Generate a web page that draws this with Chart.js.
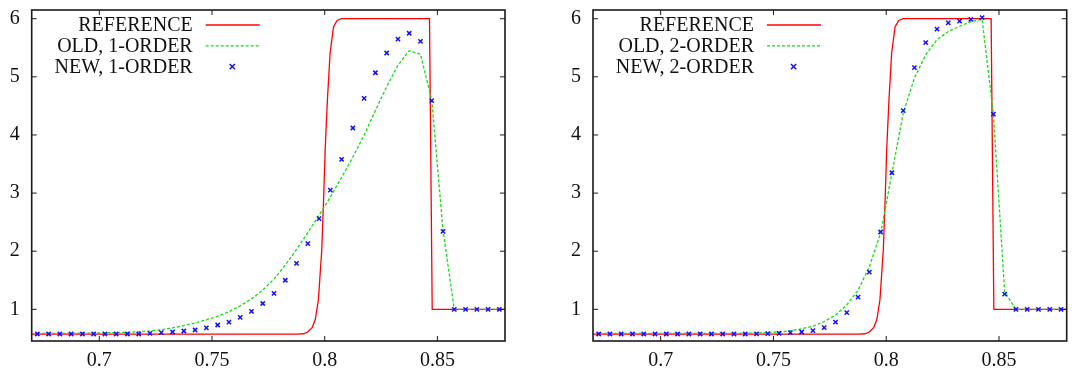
<!DOCTYPE html>
<html>
<head>
<meta charset="utf-8">
<script src="https://cdn.jsdelivr.net/npm/chart.js@4"></script>
<style>
    html, body { margin: 0; padding: 0; background: #fff; }
    #wrap { position: relative; width: 1073px; height: 372px; }
    .box { position: absolute; top: 0; height: 372px; }
    #box1 { left: 0; width: 536px; }
    #box2 { left: 536px; width: 537px; }
</style>
</head>
<body>
<div id="wrap">
    <div class="box" id="box1"><canvas id="graph1"></canvas></div>
    <div class="box" id="box2"><canvas id="graph2"></canvas></div>
</div>
<script>
// Cell centres shared by the two numerical solutions
var cellX = [0.6725, 0.6775, 0.6825, 0.6875, 0.6925, 0.6975, 0.7025, 0.7075, 0.7125, 0.7175,
             0.7225, 0.7275, 0.7325, 0.7375, 0.7425, 0.7475, 0.7525, 0.7575, 0.7625, 0.7675,
             0.7725, 0.7775, 0.7825, 0.7875, 0.7925, 0.7975, 0.8025, 0.8075, 0.8125, 0.8175,
             0.8225, 0.8275, 0.8325, 0.8375, 0.8425, 0.8475, 0.8525, 0.8575, 0.8625, 0.8675,
             0.8725, 0.8775];

// Reference solution (red line)
var refX = [0.67, 0.788, 0.7905, 0.7925, 0.7945, 0.7958, 0.7972, 0.7987, 0.7995, 0.8002,
            0.8012, 0.8024, 0.8039, 0.8055, 0.8075, 0.8465, 0.8477, 0.88];
var refY = [0.575, 0.575, 0.58, 0.61, 0.69, 0.82, 1.16, 2.02, 2.88, 3.74,
            4.60, 5.41, 5.86, 5.97, 6.0, 6.0, 1.0, 1.0];

// Left panel: first order
var old1 = [0.585, 0.585, 0.585, 0.587, 0.59, 0.592, 0.595, 0.60, 0.605, 0.615,
            0.63, 0.65, 0.68, 0.72, 0.765, 0.82, 0.88, 0.96, 1.06, 1.18,
            1.33, 1.52, 1.76, 2.03, 2.32, 2.62, 2.93, 3.27, 3.62, 4.00,
            4.42, 4.83, 5.20, 5.45, 5.39, 4.60, 2.36, 1.0, 1.0, 1.0,
            1.0, 1.0];
var new1 = [0.575, 0.575, 0.575, 0.575, 0.575, 0.575, 0.575, 0.575, 0.575, 0.575,
            0.587, 0.60, 0.61, 0.627, 0.644, 0.68, 0.73, 0.78, 0.862, 0.966,
            1.10, 1.275, 1.50, 1.79, 2.13, 2.56, 3.05, 3.58, 4.12, 4.63,
            5.07, 5.41, 5.65, 5.75, 5.61, 4.59, 2.34, 1.0, 1.0, 1.0,
            1.0, 1.0];

// Right panel: second order
var old2 = [0.585, 0.585, 0.585, 0.585, 0.585, 0.585, 0.585, 0.585, 0.585, 0.585,
            0.585, 0.585, 0.585, 0.59, 0.595, 0.60, 0.61, 0.63, 0.665, 0.71,
            0.79, 0.90, 1.075, 1.33, 1.73, 2.31, 3.34, 4.37, 4.98, 5.38,
            5.64, 5.78, 5.87, 5.95, 5.99, 4.36, 1.30, 1.0, 1.0, 1.0,
            1.0, 1.0];
var new2 = [0.575, 0.575, 0.575, 0.575, 0.575, 0.575, 0.575, 0.575, 0.575, 0.575,
            0.575, 0.575, 0.575, 0.575, 0.578, 0.582, 0.587, 0.598, 0.61, 0.633,
            0.685, 0.78, 0.943, 1.21, 1.64, 2.33, 3.35, 4.42, 5.16, 5.59,
            5.82, 5.93, 5.96, 5.99, 6.02, 4.36, 1.26, 1.0, 1.0, 1.0,
            1.0, 1.0];

var labels1 = ['REFERENCE', 'OLD, 1-ORDER', 'NEW, 1-ORDER'];
var labels2 = ['REFERENCE', 'OLD, 2-ORDER', 'NEW, 2-ORDER'];

var xTicks = [0.7, 0.75, 0.8, 0.85];
var xTickLabels = ['0.7', '0.75', '0.8', '0.85'];
var yTicks = [1, 2, 3, 4, 5, 6];

var serif = '"Liberation Serif", "Times New Roman", serif';

function pairs(xs, ys) {
    return xs.map(function(x, i) { return { x: x, y: ys[i] }; });
}

// gnuplot-like frame, inward ticks on all sides and legend inside the plot
var gnuplotFrame = {
    id: 'gnuplotFrame',
    afterDraw: function(chart) {
        var ctx = chart.ctx, a = chart.chartArea;
        var xs = chart.scales.x, ys = chart.scales.y;
        ctx.save();
        ctx.strokeStyle = '#1a1a1a';
        ctx.lineWidth = 1;
        ctx.beginPath();
        xTicks.forEach(function(v) {
            var px = xs.getPixelForValue(v);
            ctx.moveTo(px, a.bottom); ctx.lineTo(px, a.bottom - 5);
            ctx.moveTo(px, a.top); ctx.lineTo(px, a.top + 5);
        });
        yTicks.forEach(function(v) {
            var py = ys.getPixelForValue(v);
            ctx.moveTo(a.left, py); ctx.lineTo(a.left + 5, py);
            ctx.moveTo(a.right, py); ctx.lineTo(a.right - 5, py);
        });
        ctx.stroke();
        ctx.lineWidth = 1.6;
        ctx.strokeRect(a.left, a.top, a.right - a.left, a.bottom - a.top);

        ctx.font = '20px ' + serif;
        ctx.fillStyle = '#111';
        ctx.textAlign = 'right';
        ctx.textBaseline = 'middle';
        chart.data.datasets.forEach(function(ds, i) {
            var y = a.top + 15 + i * 20.8;
            ctx.fillText(ds.label, a.left + 161, y + 1);
            ctx.strokeStyle = ds.borderColor;
            if (ds.showLine === false) {
                var cx = a.left + 200.6, r = 2.6;
                ctx.lineWidth = 1.5;
                ctx.setLineDash([]);
                ctx.beginPath();
                ctx.moveTo(cx - r, y - r); ctx.lineTo(cx + r, y + r);
                ctx.moveTo(cx - r, y + r); ctx.lineTo(cx + r, y - r);
                ctx.stroke();
            } else {
                ctx.lineWidth = ds.borderWidth;
                ctx.setLineDash(ds.borderDash || []);
                ctx.beginPath();
                ctx.moveTo(a.left + 174, y);
                ctx.lineTo(a.left + 228, y);
                ctx.stroke();
            }
        });
        ctx.restore();
    }
};

function makeChart(canvasId, names, oldVals, newVals, yWidth, padRight) {
    var ctx = document.getElementById(canvasId).getContext('2d');
    return new Chart(ctx, {
        type: 'line',
        data: {
            datasets: [{
                label: names[0],
                data: pairs(refX, refY),
                borderColor: '#ff0000',
                borderWidth: 1.3,
                pointRadius: 0,
                tension: 0,
                order: 3
            }, {
                label: names[1],
                data: pairs(cellX, oldVals),
                borderColor: '#11dd11',
                borderWidth: 1.3,
                borderDash: [3, 2],
                pointRadius: 0,
                tension: 0,
                order: 2
            }, {
                label: names[2],
                data: pairs(cellX, newVals),
                showLine: false,
                borderColor: '#1010ff',
                pointStyle: 'crossRot',
                pointRadius: 3,
                pointBorderWidth: 1.5,
                pointBorderColor: '#1010ff',
                order: 1
            }]
        },
        options: {
            responsive: true,
            maintainAspectRatio: false,
            animation: false,
            events: [],
            layout: { padding: { top: 10, right: padRight, left: 0, bottom: 0 } },
            plugins: {
                legend: { display: false },
                tooltip: { enabled: false }
            },
            scales: {
                x: {
                    type: 'linear',
                    min: 0.67,
                    max: 0.88,
                    grid: { display: false, drawTicks: false },
                    border: { display: false },
                    afterBuildTicks: function(s) {
                        s.ticks = xTicks.map(function(v) { return { value: v }; });
                    },
                    afterFit: function(s) { s.height = 31; },
                    ticks: {
                        autoSkip: false,
                        maxRotation: 0,
                        padding: 10,
                        color: '#111',
                        font: { family: serif, size: 20, lineHeight: 1 },
                        callback: function(v, i) { return xTickLabels[i]; }
                    }
                },
                y: {
                    type: 'linear',
                    min: 0.455,
                    max: 6.15,
                    grid: { display: false, drawTicks: false },
                    border: { display: false },
                    afterBuildTicks: function(s) {
                        s.ticks = yTicks.map(function(v) { return { value: v }; });
                    },
                    afterFit: function(s) {
                        s.width = yWidth;
                        s.paddingTop = 0;
                        s.paddingBottom = 0;
                    },
                    ticks: {
                        padding: 12,
                        color: '#111',
                        font: { family: serif, size: 20, lineHeight: 1 },
                        callback: function(v) { return String(v); }
                    }
                }
            }
        },
        plugins: [gnuplotFrame]
    });
}

document.addEventListener('DOMContentLoaded', function() {
    makeChart('graph1', labels1, old1, new1, 31.7, 31);
    makeChart('graph2', labels2, old2, new2, 57, 6.3);
});
</script>
</body>
</html>
